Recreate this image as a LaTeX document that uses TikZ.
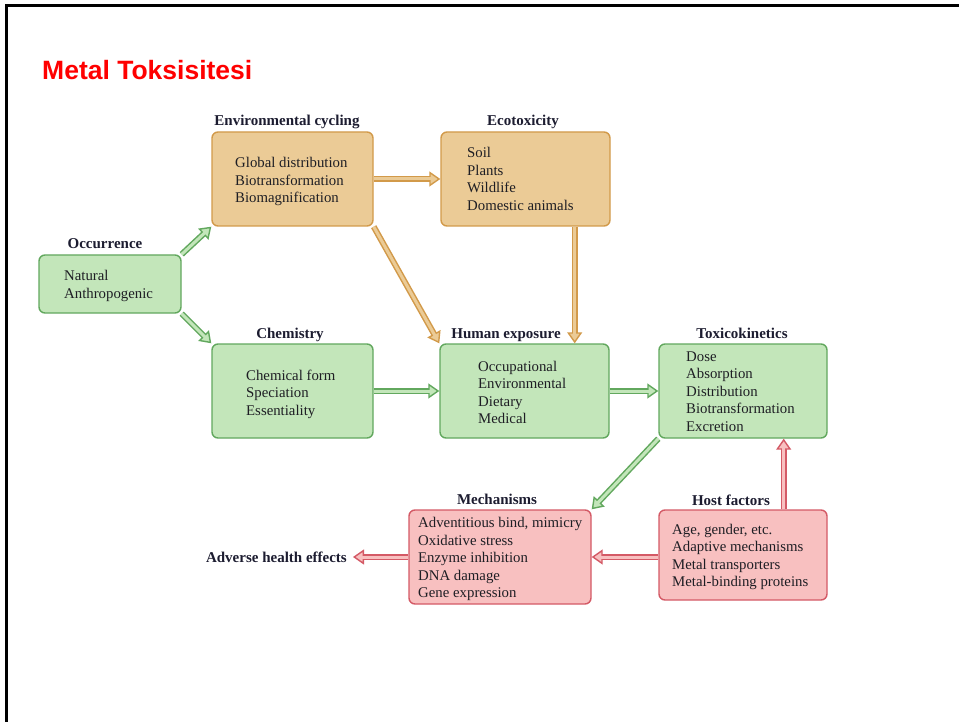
\documentclass[tikz,border=0pt]{standalone}
\usepackage{fontspec}
\setmainfont{Liberation Serif}
\newfontfamily\titlefont{Liberation Sans}
\usetikzlibrary{arrows.meta,calc}
\definecolor{gB}{HTML}{62A85E}
\definecolor{gF}{HTML}{C3E6BA}
\definecolor{oB}{HTML}{D29A4A}
\definecolor{oF}{HTML}{EBCB96}
\definecolor{rB}{HTML}{D45A66}
\definecolor{rF}{HTML}{F8C0C0}
\definecolor{txt}{HTML}{1E1E24}
\definecolor{ttl}{HTML}{1C1C30}
\tikzset{
  box/.style={rectangle, rounded corners=6pt, line width=1.4pt, inner sep=0pt},
  gbox/.style={box, draw=gB, fill=gF},
  obox/.style={box, draw=oB, fill=oF},
  rbox/.style={box, draw=rB, fill=rF},
  body/.style={anchor=north west, inner sep=0pt, align=left, text=txt,
    font=\fontsize{14.8}{17.5}\selectfont},
  head/.style={anchor=base, inner sep=0pt, text=ttl,
    font=\fontsize{15}{17}\selectfont\bfseries},
}
\newcommand\dblarr[4]{%
  \draw[#1,line width=6pt,shorten >=10pt] (#3) -- (#4);
  \draw[#1,line width=1.4pt,-{Triangle[length=11pt,width=15pt,fill=#2]}] ($(#4)!11pt!(#3)$) -- (#4);
  \draw[#2,line width=3pt,shorten >=8.5pt] (#3) -- (#4);
}
\begin{document}
\begin{tikzpicture}[x=1pt,y=-1pt]
\useasboundingbox (0,0) rectangle (959,722);
\fill[white] (0,0) rectangle (959,722);
\draw[line width=3pt, black] (6,722) -- (6,5.5) -- (959,5.5);

\node[anchor=base west, inner sep=0pt, text={rgb,255:red,255;green,0;blue,0},
  font=\titlefont\fontsize{26.5}{30}\selectfont\bfseries] (title) at (42,79.5) {Metal Toksisitesi};

% boxes
\node[gbox, minimum width=142pt, minimum height=58pt] (occ) at (110,284) {};
\node[obox, minimum width=161pt, minimum height=94pt] (env) at (292.5,179) {};
\node[obox, minimum width=169pt, minimum height=94pt] (eco) at (525.5,179) {};
\node[gbox, minimum width=161pt, minimum height=94pt] (chem) at (292.5,391) {};
\node[gbox, minimum width=169pt, minimum height=94pt] (hum) at (524.5,391) {};
\node[gbox, minimum width=168pt, minimum height=94pt] (tox) at (743,391) {};
\node[rbox, minimum width=182pt, minimum height=94pt] (mech) at (500,557) {};
\node[rbox, minimum width=168pt, minimum height=90pt] (host) at (743,555) {};

% headings
\node[head] (occT) at (105,249) {Occurrence};
\node[head] (envT) at (287,126) {Environmental cycling};
\node[head] (ecoT) at (523,126) {Ecotoxicity};
\node[head] (chemT) at (290,338) {Chemistry};
\node[head] (humT) at (506,338) {Human exposure};
\node[head] (toxT) at (742,338) {Toxicokinetics};
\node[head] (mechT) at (497,504) {Mechanisms};
\node[head] (hostT) at (731,505) {Host factors};
\node[head, anchor=base east] (adv) at (347,562) {Adverse health effects};

% body texts
\node[body] (occL) at (64,270.5) {Natural\\Anthropogenic};
\node[body] (envL) at (235,157.5) {Global distribution\\Biotransformation\\Biomagnification};
\node[body] (ecoL) at (467,147.5) {Soil\\Plants\\Wildlife\\Domestic animals};
\node[body] (chemL) at (246,369.5) {Chemical form\\Speciation\\Essentiality};
\node[body] (humL) at (478,361) {Occupational\\Environmental\\Dietary\\Medical};
\node[body] (toxL) at (686,351.5) {Dose\\Absorption\\Distribution\\Biotransformation\\Excretion};
\node[body] (mechL) at (418,517.5) {Adventitious bind, mimicry\\Oxidative stress\\Enzyme inhibition\\DNA damage\\Gene expression};
\node[body] (hostL) at (672,524) {Age, gender, etc.\\Adaptive mechanisms\\Metal transporters\\Metal-binding proteins};

% connector helper coordinates
\coordinate (ecoS) at ($(eco.south east)+(-36,0)$);
\coordinate (humN) at (ecoS |- hum.north);
\coordinate (hostN) at ($(host.north east)+(-44,0)$);
\coordinate (toxS) at (hostN |- tox.south);
\coordinate (hostW) at ($(host.west)+(0,2)$);
\coordinate (mechE) at (hostW -| mech.east);
\coordinate (advE) at ($(adv.base east)+(6,0)$);
\coordinate (advA) at (mech.west -| advE);

% arrows
\dblarr{gB}{gF}{occ.north east}{env.south west}
\dblarr{gB}{gF}{occ.south east}{chem.north west}
\dblarr{oB}{oF}{env.east}{eco.west}
\dblarr{oB}{oF}{env.south east}{hum.north west}
\dblarr{oB}{oF}{ecoS}{humN}
\dblarr{gB}{gF}{chem.east}{hum.west}
\dblarr{gB}{gF}{hum.east}{tox.west}
\dblarr{gB}{gF}{tox.south west}{mech.north east}
\dblarr{rB}{rF}{hostN}{toxS}
\dblarr{rB}{rF}{hostW}{mechE}
\dblarr{rB}{rF}{mech.west}{advA}
\end{tikzpicture}
\end{document}
